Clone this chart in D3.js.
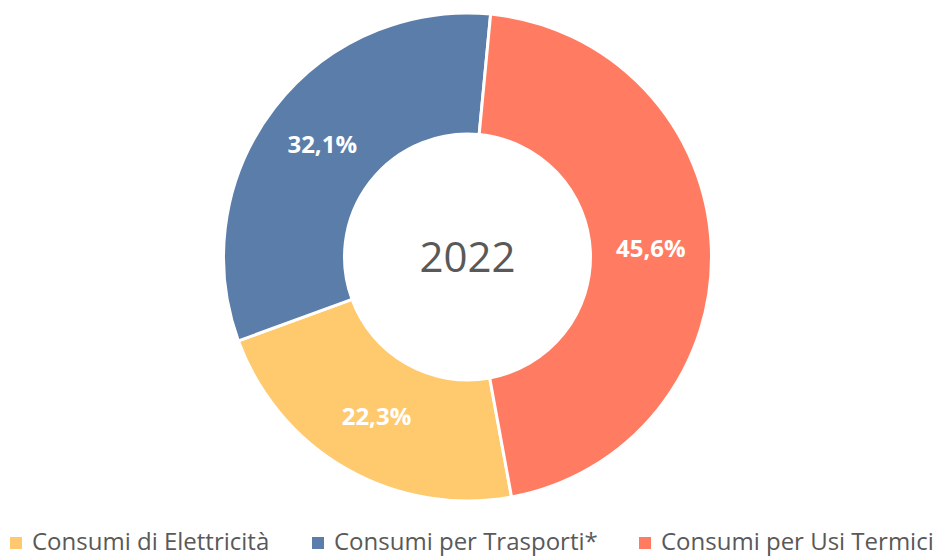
<!DOCTYPE html>
<html>
<head>
<meta charset="utf-8">
<script src="https://cdn.jsdelivr.net/npm/d3@7"></script>
<style>
  body { margin: 0; background: #fff; }
  svg { display: block; font-family: "Open Sans", sans-serif; }
</style>
</head>
<body>
<div id="chart"></div>
<script>
const width = 952;
const height = 558;

const categories = ['Consumi di Elettricità', 'Consumi per Trasporti*', 'Consumi per Usi Termici'];
const values = [22.3, 32.1, 45.6];
const colors = ['#FFC96E', '#5A7DAA', '#FF7C62'];
const centerLabel = '2022';

const cx = 467.5;
const cy = 257;
const outerR = 244;
const innerR = 123;
const start = 169.6 * Math.PI / 180;

const svg = d3.select('#chart')
    .append('svg')
    .attr('width', width)
    .attr('height', height);

const pie = d3.pie()
    .sort(null)
    .value(function (d) { return d; })
    .startAngle(start)
    .endAngle(start + 2 * Math.PI);

const arc = d3.arc()
    .innerRadius(innerR)
    .outerRadius(outerR);

const g = svg.append('g')
    .attr('transform', 'translate(' + cx + ',' + cy + ')');

const slices = pie(values);

g.selectAll('.slice')
    .data(slices)
    .enter()
    .append('path')
    .attr('class', 'slice')
    .attr('d', arc)
    .attr('fill', function (d, i) { return colors[i]; })
    .attr('stroke', '#fff')
    .attr('stroke-width', 3);

g.selectAll('.pct')
    .data(slices)
    .enter()
    .append('text')
    .attr('class', 'pct')
    .attr('transform', function (d) {
        const c = arc.centroid(d);
        return 'translate(' + c[0] + ',' + c[1] + ')';
    })
    .attr('text-anchor', 'middle')
    .attr('dy', '0.35em')
    .attr('fill', '#fff')
    .style('font-size', '24px')
    .style('font-weight', 'bold')
    .text(function (d) { return d.data.toFixed(1).replace('.', ',') + '%'; });

g.append('text')
    .attr('text-anchor', 'middle')
    .attr('dy', '0.36em')
    .attr('fill', '#595959')
    .style('font-size', '42px')
    .text(centerLabel);

// legend
const legendX = [10, 312, 639];
const legendY = 542;
const legend = svg.selectAll('.legend')
    .data(categories)
    .enter()
    .append('g')
    .attr('class', 'legend')
    .attr('transform', function (d, i) { return 'translate(' + legendX[i] + ',' + legendY + ')'; });

legend.append('rect')
    .attr('x', 0)
    .attr('y', -5)
    .attr('width', 12)
    .attr('height', 12)
    .attr('fill', function (d, i) { return colors[i]; });

legend.append('text')
    .attr('x', 22)
    .attr('dy', '0.35em')
    .attr('fill', '#595959')
    .style('font-size', '24px')
    .text(function (d) { return d; });
</script>
</body>
</html>
